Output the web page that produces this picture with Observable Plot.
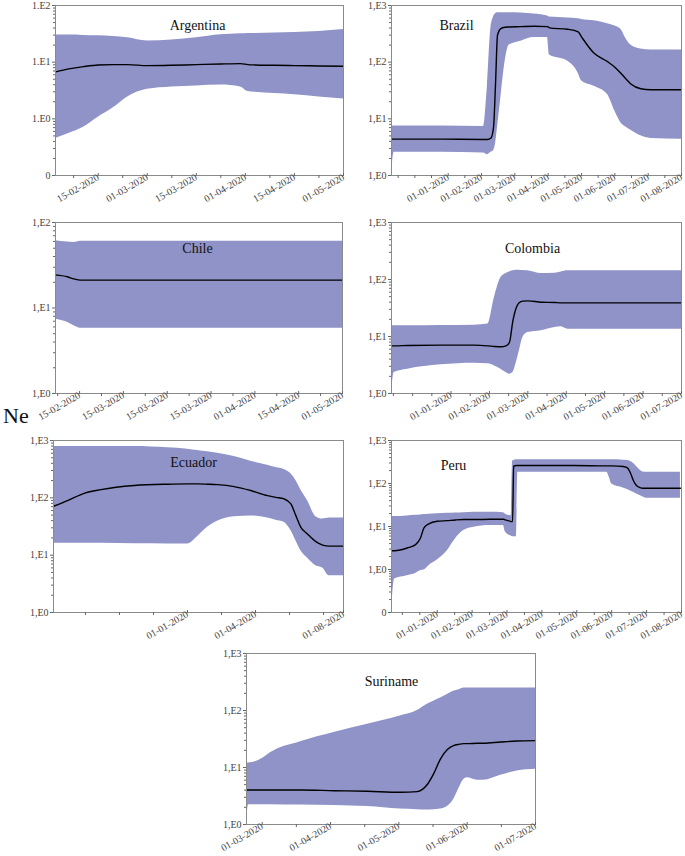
<!DOCTYPE html>
<html><head><meta charset="utf-8">
<script src="https://cdn.jsdelivr.net/npm/d3@7"></script>
<script src="https://cdn.jsdelivr.net/npm/@observablehq/plot@0.6"></script>
<style>
body{margin:0;background:#fff;}
#root{position:relative;width:685px;height:856px;overflow:hidden;font-family:"Liberation Serif",serif;}
#root svg, #root svg text{font-family:"Liberation Serif",serif !important;}
#ne{position:absolute;left:3px;top:403px;font-size:22px;line-height:26px;font-family:"Liberation Serif",serif;color:#111;}
</style></head>
<body><div id="root"><div id="ne">Ne</div></div>
<script>
// ---------- Argentina ----------
const argT    = [-0.87,-0.6,-0.3,0,0.3,0.6,1.0,1.5,2.0,2.5,2.9,3.05,3.2,3.6,4.0,4.5,5.0];
const argLow  = [0.45,0.55,0.71,1.07,1.55,2.44,3.32,3.65,3.80,3.95,3.65,3.03,2.95,2.79,2.65,2.44,2.23];
const argMed  = [6.75,7.6,8.35,8.93,9.05,9.05,8.69,8.81,9.05,9.29,9.42,9.05,8.93,8.81,8.69,8.58,8.46];
const argHigh = [30.1,30.1,29.7,29.3,28.5,27.0,23.7,24.6,27.0,30.5,31.7,32.2,32.2,32.6,33.5,34.8,37.7];
const argXTicks = [0,1,2,3,4,5];
const argXLabels = ["15-02-2020","01-03-2020","15-03-2020","01-04-2020","15-04-2020","01-05-2020"];
const argYTicks = [0.1,1,10,100];
const argYLabels = ["0","1.E0","1.E1","1.E2"];

// ---------- Brazil ----------
const braT    = [-1.70,-1.62,-0.22,1.06,1.18,1.28,1.36,1.42,1.48,1.58,1.70,1.83,2.18,2.58,2.98,3.04,3.58,3.90,4.00,4.38,4.78,5.00,5.18,5.33,5.48,5.78,6.08,7.00];
const braLow  = [1.0,2.56,2.56,2.49,2.33,2.56,2.74,3.58,7.0,23.4,95.7,200,235,272,272,134,105,64,47,37.4,26.8,13.7,8.55,7.19,6.29,5.01,4.5,4.38];
const braMed  = [4.38,4.38,4.38,4.32,4.32,4.56,7.0,40,299,391,413,418,424,430,424,402,381,342,280,143,102,81.5,64,51,41.1,34,32.7,32.7];
const braHigh = [7.48,7.48,7.48,7.29,40,391,625,714,745,745,745,745,735,706,652,625,601,585,569,540,478,436,381,262,200,170,164,164];
const braXTicks = [0,1,2,3,4,5,6,7];
const braXLabels = ["01-01-2020","01-02-2020","01-03-2020","01-04-2020","01-05-2020","01-06-2020","01-07-2020","01-08-2020"];
const braYTicks = [1,10,100,1000];
const braYLabels = ["1,E0","1,E1","1,E2","1,E3"];

// ---------- Chile ----------
const chiT    = [-0.55,-0.28,-0.13,0.02,6.0];
const chiLow  = [7.4,6.8,6.2,5.8,5.8];
const chiMed  = [24.4,23.2,21.9,21.2,21.2];
const chiHigh = [61,59,58.4,60.5,60.5];
const chiXTicks = [0,1,2,3,4,5,6];
const chiXLabels = ["15-02-2020","15-03-2020","15-03-2020","15-03-2020","01-04-2020","15-04-2020","01-05-2020"];
const chiYTicks = [1,10,100];
const chiYLabels = ["1,E0","1,E1","1,E2"];

// ---------- Colombia ----------
const colT    = [-1.55,-1.48,-1.13,-0.26,0.61,0.96,1.13,1.30,1.43,1.52,1.61,1.70,1.78,1.87,2.00,2.35,2.70,2.87,3.04,3.22,6.0];
const colLow  = [1.0,2.33,2.67,3.18,3.40,3.31,3.05,2.67,2.33,2.18,2.33,3.50,5.61,9.59,11.7,12.6,14.4,14.8,13.4,13.4,13.4];
const colMed  = [6.85,6.85,6.95,7.05,7.05,6.85,6.68,6.59,6.85,7.85,18.8,32.3,39.5,41.7,42.2,40.0,39.5,38.9,38.9,38.9,38.9];
const colHigh = [15.4,15.4,15.4,15.6,15.8,16.5,48.3,108,127,136,142,146,146,144,142,127,129,136,142,142,142];
const colXTicks = [0,1,2,3,4,5,6];
const colXLabels = ["01-01-2020","01-02-2020","01-03-2020","01-04-2020","01-05-2020","01-06-2020","01-07-2020"];

// ---------- Ecuador ----------
const ecuT    = [-5.91,-5.29,-4.56,-3.82,-2.35,-0.88,0,0.44,0.88,1.32,2.06,2.79,3.53,3.90,4.26,4.56,4.78,5.00,5.29,5.66,5.96,6.25,6.88];
const ecuLow  = [16.1,16.1,16.1,16.1,15.8,15.7,15.7,21.0,30.6,39.0,47.0,48.3,44.5,40.6,37.4,26.8,17.9,12.0,8.91,6.55,5.96,4.38,4.38];
const ecuMed  = [71.3,89.5,120,139,164,173,175,175,173,170,157,134,109,102,95.7,78.2,48.9,30.6,23.4,17.2,15.0,14.4,14.4];
const ecuHigh = [785,785,785,785,785,745,706,669,634,601,525,435,371,338,311,262,200,137,89.5,47.0,42.8,44.5,44.5];
const ecuXTicks = [0,3,6.88];
const ecuXLabels = ["01-01-2020","01-04-2020","01-08-2020"];

// ---------- Peru ----------
const perT    = [-1.31,-1.22,-0.86,-0.62,-0.48,-0.38,-0.24,0,0.29,0.52,0.76,1.05,1.52,1.90,1.95,2.10,2.12,2.16,2.19,2.27,2.31,2.57,3.90,4.86,4.93,5.00,5.33,5.45,5.54,5.62,5.71,5.81,5.90,6.00,6.97];
const perLow  = [0.1,0.60,0.72,0.81,0.94,0.97,1.23,1.66,2.74,5.13,8.02,9.58,10.5,10.5,7.59,6.12,6.02,5.81,5.81,5.81,183,183,183,183,140,97.9,79.1,72.3,67.3,62.7,57.3,52.4,48.8,45.4,45.4];
const perMed  = [2.74,2.74,3.16,3.78,5.41,9.25,11.5,13.2,13.7,14.2,14.5,14.5,14.7,14.7,14.2,13.2,13.0,13.0,252,262,262,262,262,257,257,257,248,231,173,117,89.5,80.4,77.6,77.6,77.6];
const perHigh = [17.0,17.0,17.6,18.2,18.6,18.9,19.2,19.9,20.3,20.7,21.0,21.4,21.4,21.0,19.6,17.9,17.9,330,342,355,355,355,355,355,355,355,348,342,325,297,248,207,186,183,183];
const perXTicks = [0,1,2,3,4,5,6,7];
const perXLabels = ["01-01-2020","01-02-2020","01-03-2020","01-04-2020","01-05-2020","01-06-2020","01-07-2020","01-08-2020"];
const perYTicks = [0.1,1,10,100,1000];
const perYLabels = ["0","1,E0","1,E1","1,E2","1,E3"];

// ---------- Suriname ----------
const surT    = [-0.23,-0.20,0.02,0.12,0.56,1.05,1.54,2.02,2.27,2.41,2.51,2.61,2.71,2.80,2.88,2.95,3.00,3.15,3.24,3.49,3.73,4.0];
const surLow  = [1.0,2.22,2.22,2.22,2.19,2.16,2.07,1.87,1.82,1.79,1.82,1.87,2.07,2.71,4.31,6.17,6.59,6.00,6.00,7.33,8.71,9.31];
const surMed  = [4.03,4.03,4.03,4.03,4.03,3.92,3.82,3.67,3.77,4.92,7.83,14.2,20.6,24.2,25.5,26.2,26.2,26.6,26.6,28.0,29.2,29.6];
const surHigh = [12.0,12.0,14.8,18.1,28.4,41.2,57.5,80.1,100,128,146,166,190,217,232,248,248,248,248,248,248,248];
const surXTicks = [0,1,2,3,4];
const surXLabels = ["01-03-2020","01-04-2020","01-05-2020","01-06-2020","01-07-2020"];

const root = document.getElementById("root");
const BAND = "#8f93c8";

function halfSteps(a, b, step, skip) {
  const out = [];
  for (let v = a; v <= b + 1e-9; v += step) {
    const r = Math.round(v * 100) / 100;
    if (!skip.some(s => Math.abs(s - r) < 1e-6)) out.push(r);
  }
  return out;
}

function panel(o) {
  const [L, R, T, B] = o.frame;
  const mL = 50, mR = 14, mT = 8, mB = 50;
  const width = Math.round(R - L) + mL + mR;
  const height = Math.round(B - T) + mT + mB;
  const rows = o.t.map((d, i) => ({t: d, lo: o.low[i], med: o.med[i], hi: o.high[i]}));
  const yMinor = [];
  const e0 = Math.round(Math.log10(o.yDomain[0])), e1 = Math.round(Math.log10(o.yDomain[1]));
  for (let e = e0; e < e1; e++) for (let k = 2; k < 10; k++) yMinor.push(k * Math.pow(10, e));
  const yMap = new Map(o.yTicks.map((v, i) => [v, o.yLabels[i]]));
  const xMap = new Map(o.xTicks.map((v, i) => [v, o.xLabels[i]]));
  const svg = Plot.plot({
    width, height,
    marginLeft: mL, marginRight: mR, marginTop: mT, marginBottom: mB,
    style: {fontSize: "10px", color: "#666", background: "transparent", overflow: "visible"},
    x: {domain: o.xDomain},
    y: {type: "log", domain: o.yDomain},
    marks: [
      Plot.areaY(rows, {x: "t", y1: "lo", y2: "hi", fill: BAND, curve: "monotone-x"}),
      Plot.lineY(rows, {x: "t", y: "med", stroke: "#000", strokeWidth: 1.4, curve: "monotone-x"}),
      Plot.frame({stroke: "#8a8a8a"}),
      Plot.axisY(yMinor, {tickSize: 2, tickFormat: () => "", label: null}),
      Plot.axisY(o.yTicks, {tickSize: 3, tickPadding: 2, tickFormat: d => yMap.get(d), label: null, fill: "#444"}),
      Plot.axisX(o.xMinor, {tickSize: 3, tickFormat: () => "", label: null}),
      Plot.axisX(o.xTicks, {tickSize: 3, tickPadding: 0, tickRotate: -30, tickFormat: d => xMap.get(d), label: null, fill: "#444", dy: -2}),
      Plot.text([o.name], {frameAnchor: "top-left", dx: o.title[0], dy: o.title[1], textAnchor: "middle", fontSize: 14, fill: "#111"})
    ]
  });
  svg.style.position = "absolute";
  svg.style.left = (L - mL) + "px";
  svg.style.top = (T - mT) + "px";
  svg.style.maxWidth = "none";
  root.appendChild(svg);
}

panel({name: "Argentina", t: argT, low: argLow, med: argMed, high: argHigh,
  frame: [55, 343, 5, 175], xDomain: [-0.87, 5], xTicks: argXTicks, xLabels: argXLabels,
  xMinor: halfSteps(-0.5, 4.5, 1, []), yDomain: [0.1, 100], yTicks: argYTicks, yLabels: argYLabels, title: [142, 15]});

panel({name: "Brazil", t: braT, low: braLow, med: braMed, high: braHigh,
  frame: [390.7, 680.7, 5, 175], xDomain: [-1.7, 7], xTicks: braXTicks, xLabels: braXLabels,
  xMinor: halfSteps(-1.5, 6.5, 0.5, braXTicks), yDomain: [1, 1000], yTicks: braYTicks, yLabels: braYLabels, title: [65, 15]});

panel({name: "Chile", t: chiT, low: chiLow, med: chiMed, high: chiHigh,
  frame: [55, 342, 221.7, 392.7], xDomain: [-0.55, 6], xTicks: chiXTicks, xLabels: chiXLabels,
  xMinor: halfSteps(-0.5, 5.5, 1, []), yDomain: [1, 100], yTicks: chiYTicks, yLabels: chiYLabels, title: [142, 21]});

panel({name: "Colombia", t: colT, low: colLow, med: colMed, high: colHigh,
  frame: [390.7, 680.7, 221.7, 392.7], xDomain: [-1.55, 6], xTicks: colXTicks, xLabels: colXLabels,
  xMinor: halfSteps(-1.5, 5.5, 0.5, colXTicks), yDomain: [1, 1000], yTicks: braYTicks, yLabels: braYLabels, title: [141, 21]});

panel({name: "Ecuador", t: ecuT, low: ecuLow, med: ecuMed, high: ecuHigh,
  frame: [52.7, 342.7, 440, 611.7], xDomain: [-5.91, 6.88], xTicks: ecuXTicks, xLabels: ecuXLabels,
  xMinor: [-4.5, -3, -1.5, 1.5, 4.5, 6], yDomain: [1, 1000], yTicks: braYTicks, yLabels: braYLabels, title: [140, 17]});

panel({name: "Peru", t: perT, low: perLow, med: perMed, high: perHigh,
  frame: [390.7, 680.7, 440, 611.7], xDomain: [-1.31, 7], xTicks: perXTicks, xLabels: perXLabels,
  xMinor: halfSteps(-1, 6.5, 0.5, perXTicks), yDomain: [0.1, 1000], yTicks: perYTicks, yLabels: perYLabels, title: [62, 20]});

panel({name: "Suriname", t: surT, low: surLow, med: surMed, high: surHigh,
  frame: [246, 535, 653, 824], xDomain: [-0.23, 4], xTicks: surXTicks, xLabels: surXLabels,
  xMinor: [0.5, 1.5, 2.5, 3.5], yDomain: [1, 1000], yTicks: braYTicks, yLabels: braYLabels, title: [145, 23]});
</script>
</body></html>
